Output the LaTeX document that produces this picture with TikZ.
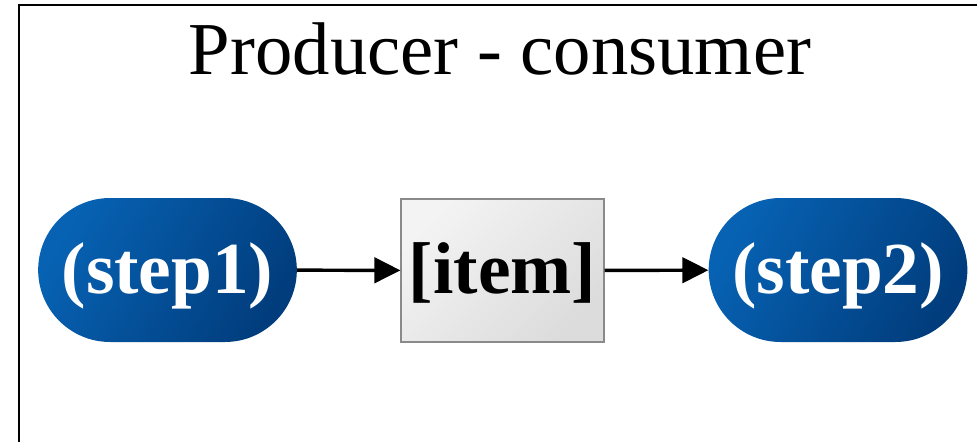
\documentclass[tikz,border=0pt]{standalone}
\usepackage{fontspec}
\setmainfont{Liberation Serif}
\usetikzlibrary{arrows.meta}
\definecolor{bluelight}{HTML}{0762B3}
\definecolor{bluedark}{HTML}{013D7D}
\definecolor{graylight}{HTML}{F3F3F3}
\definecolor{graydark}{HTML}{DCDCDC}
\definecolor{grayborder}{HTML}{8A8A8A}
\begin{document}
\begin{tikzpicture}[x=0.75pt,y=-0.75pt,
  stepnode/.style={rectangle, rounded corners=54pt, minimum width=194pt,
    minimum height=108pt, inner sep=0pt, top color=bluelight,
    bottom color=bluedark, shading angle=60, text=white,
    font=\bfseries\fontsize{55}{60}\selectfont,
    text height=49.5pt, text depth=15pt},
  itemnode/.style={rectangle, minimum width=152pt, minimum height=107pt,
    inner sep=0pt, top color=graylight, bottom color=graydark,
    shading angle=45, draw=grayborder, line width=1.1pt, text=black,
    font=\bfseries\fontsize{55}{60}\selectfont,
    text height=49.5pt, text depth=15pt},
  arr/.style={line width=2.6pt, -{Triangle[length=19.5pt,width=19pt]}},
  frame/.style={line width=1.5pt, draw=black}]
\useasboundingbox (0,0) rectangle (977,442);
\draw[frame] (19,442) -- (19,5) -- (977,5);
\node[anchor=base, font=\fontsize{56}{62}\selectfont] (title) at (500,75) {Producer - consumer};
\node[stepnode] (s1) at (167.5,270) {(step1)};
\node[itemnode] (it) at (502.5,270.5) {[item]};
\node[stepnode] (s2) at (838,270) {(step2)};
\draw[arr] (s1) -- (it);
\draw[arr] (it) -- (s2);
\end{tikzpicture}
\end{document}
